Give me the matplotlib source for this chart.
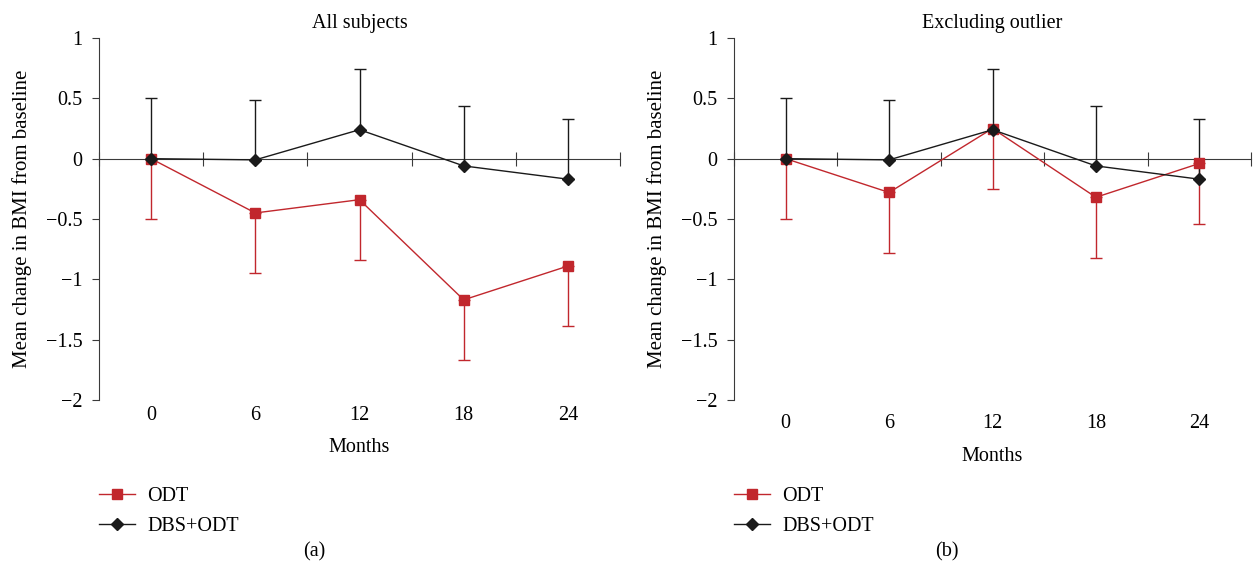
# BMI change from baseline, ODT vs DBS+ODT, two panels

import numpy as np
import matplotlib
matplotlib.use("Agg")
import matplotlib.pyplot as plt
from matplotlib import ticker

plt.rcParams['font.family'] = ['Liberation Serif', 'DejaVu Serif']
plt.rcParams['font.size'] = 14

# Data
months = ['0', '6', '12', '18', '24']

odt_all = [0.00, -0.45, -0.34, -1.17, -0.89]
odt_all_err = [0.50, 0.50, 0.50, 0.50, 0.50]

odt_excl = [0.00, -0.28, 0.25, -0.32, -0.04]
odt_excl_err = [0.50, 0.50, 0.50, 0.50, 0.50]

dbs = [0.00, -0.01, 0.24, -0.06, -0.17]
dbs_err = [0.50, 0.50, 0.50, 0.50, 0.50]

panel_titles = ['All subjects', 'Excluding outlier']
panel_tags = ['(a)', '(b)']

RED = '#c1272d'
BLACK = '#1a1a1a'
AXIS = '#3a3a3a'

fig = plt.figure(figsize=(12.55, 5.71), dpi=100)
ax_a = fig.add_axes([99 / 1255, 1 - 400 / 571, 521 / 1255, 362 / 571])
ax_b = fig.add_axes([734 / 1255, 1 - 400 / 571, 517 / 1255, 362 / 571])


def fmt_y(v, pos):
    return f'{v:g}'.replace('-', '\u2212')


def draw_panel(ax, odt, odt_err, title, tag, tag_x, label_pad):
    x = np.arange(len(months))
    zeros = [0] * len(months)

    # one-sided error bars: ODT downwards, DBS+ODT upwards
    ax.errorbar(x, odt, yerr=[odt_err, zeros], fmt='none', ecolor=RED,
                elinewidth=1.0, capsize=4, capthick=1.0, zorder=2)
    ax.errorbar(x, dbs, yerr=[zeros, dbs_err], fmt='none', ecolor=BLACK,
                elinewidth=1.0, capsize=4, capthick=1.0, zorder=3)
    l1, = ax.plot(x, odt, color=RED, lw=1.0, marker='s', ms=6.5,
                  label='ODT', zorder=4)
    l2, = ax.plot(x, dbs, color=BLACK, lw=1.0, marker='D', ms=6.5,
                  label='DBS+ODT', zorder=5)

    ax.set_xlim(-0.5, len(months) - 0.5)
    ax.set_ylim(-2, 1)

    for s in ['top', 'right']:
        ax.spines[s].set_visible(False)
    ax.spines['left'].set_color(AXIS)
    ax.spines['bottom'].set_color(AXIS)
    ax.spines['bottom'].set_position(('data', 0))

    ax.set_yticks(np.arange(-2, 1.01, 0.5))
    ax.yaxis.set_major_formatter(ticker.FuncFormatter(fmt_y))
    ax.tick_params(axis='y', direction='out', length=5, pad=7, color=AXIS,
                   labelsize=14.5)

    # boundary ticks on the zero line
    ax.set_xticks(np.arange(-0.5, len(months), 1.0))
    ax.tick_params(axis='x', direction='inout', length=10, color=AXIS,
                   labelbottom=False)

    # category labels below the plot
    sec = ax.secondary_xaxis('bottom')
    sec.set_xticks(x, months)
    sec.tick_params(length=0, pad=label_pad, labelsize=14.5)
    sec.spines['bottom'].set_visible(False)
    sec.set_xlabel('Months', labelpad=10, fontsize=14.5)

    ax.set_ylabel('Mean change in BMI from baseline', labelpad=10, fontsize=15)
    ax.set_title(title, fontsize=14.5, pad=7)

    ax.legend(handles=[l1, l2], loc='upper left', bbox_to_anchor=(0, -0.24),
              frameon=False, borderaxespad=0, borderpad=0, handlelength=1.8,
              handletextpad=0.6, labelspacing=0.55, fontsize=14.5)

    fig.text(tag_x, 1 - 552 / 571, tag, ha='center', va='center', fontsize=14.5)


draw_panel(ax_a, odt_all, odt_all_err, panel_titles[0], panel_tags[0], 314 / 1255, 4)
draw_panel(ax_b, odt_excl, odt_excl_err, panel_titles[1], panel_tags[1], 947 / 1255, 10)

plt.savefig('out.png', dpi=100)
